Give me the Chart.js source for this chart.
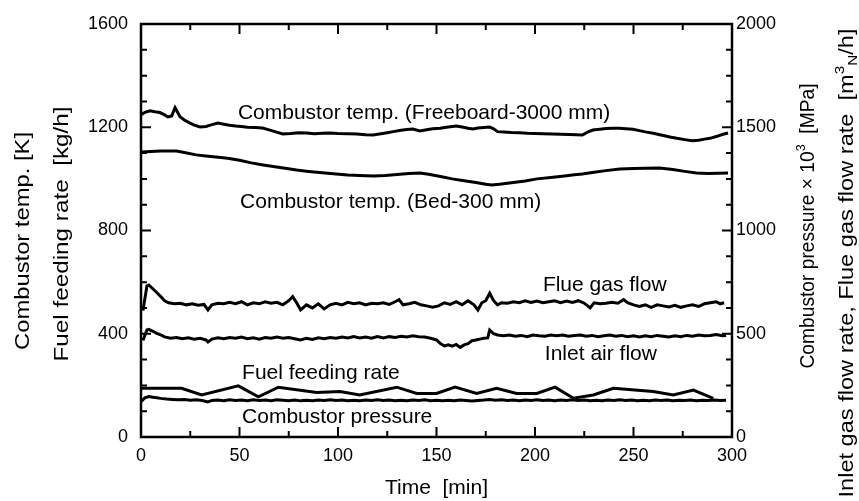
<!DOCTYPE html>
<html>
<head>
<meta charset="utf-8">
<script src="https://cdn.jsdelivr.net/npm/chart.js@4.4.1/dist/chart.umd.min.js"></script>
<style>
  html, body { margin: 0; padding: 0; background: #fff; }
  #wrap { width: 859px; height: 501px; }
</style>
</head>
<body>
<div id="wrap"><canvas id="combustorChart" width="859" height="501"></canvas></div>
<script>
// [time (min), value] pairs
// left axis: temperature [K] / fuel feeding rate [kg/h]
const freeboardTemp = [[0,1248],[2,1258],[4.6,1264],[7,1260],[9.6,1257],[12,1248],[13.7,1240],[15.6,1244],[17.3,1276],[19.8,1241],[22,1228],[24.9,1216],[27,1208],[30,1201],[33,1203],[36,1210],[39,1216],[42,1212],[45,1208],[48,1205],[51,1203],[54,1200],[58,1199],[61.7,1197],[65,1190],[68,1183],[72,1174],[76,1176],[80,1179],[84,1178],[88,1175],[92,1177],[96,1178],[100,1176],[105,1175],[109.6,1174],[114,1171],[117.8,1170],[121,1174],[125,1179],[128,1183],[132,1188],[135,1191],[138,1193],[141.6,1186],[145,1190],[148,1194],[151.8,1196],[155,1200],[158,1203],[160,1205],[163,1201],[166,1196],[168.5,1193],[171,1197],[174,1199],[177,1201],[179,1194],[181,1183],[184,1182],[188,1180],[192,1179],[196,1177],[200,1176],[204,1175],[209,1174],[213,1173],[217,1172],[221,1171],[224,1170],[227,1182],[229.4,1189],[233,1192],[236,1195],[239.6,1196],[243,1196],[246,1194],[249.7,1192],[253,1187],[256,1182],[260,1177],[264,1170],[268.5,1162],[272,1157],[276,1152],[279.7,1148],[283,1150],[286,1154],[288.8,1157],[292,1164],[295.4,1173],[298,1178]];
const bedTemp = [[0,1104],[5,1106],[10,1108],[14,1108],[18,1108],[22,1102],[28,1093],[33,1089],[38,1085],[44,1080],[50,1072],[56,1062],[62,1054],[68,1047],[74,1040],[79,1034],[85,1029],[92,1024],[99,1019],[105,1015],[111,1013],[118,1011],[124,1013],[130,1017],[136,1021],[141.6,1023],[146,1018],[152,1009],[158,1000],[164,993],[170,986],[175,979],[178,976],[182,979],[188,985],[195,992],[201,1000],[208,1005],[215,1011],[220,1016],[224,1019],[230,1026],[236,1032],[243,1038],[250,1040],[256,1041],[263,1042],[270,1036],[276,1029],[282,1023],[288,1021],[293,1022],[298,1023]];
const fuelRate = [[0,189],[20.6,189],[30.8,163],[49.4,198],[59.6,156],[69.7,193],[89.2,172],[101,176],[111,163],[129.8,193],[140,169],[150,169],[159.4,193],[170.4,169],[180.5,189],[190.7,169],[200.9,169],[210.2,193],[219.5,150],[229.6,163],[239.8,189],[260,176],[270.2,163],[280.4,182],[290.5,150]];
// right axis: gas flow [m3N/h] / pressure x 10^3 [MPa]
const flueGasFlow = [[1,612],[3,731],[4,736],[6,718],[8,700],[10,680],[12,660],[14,650],[17,645],[20,648],[23,640],[26,645],[29,638],[32,642],[34,615],[36,640],[39,648],[42,645],[45,652],[48,646],[51,655],[54,640],[57,650],[60,645],[63,655],[66,648],[69,652],[72,640],[75,660],[77,680],[79,650],[81,615],[84,640],[87,625],[90,645],[93,620],[96,640],[99,648],[102,640],[105,652],[108,645],[111,650],[114,640],[117,648],[120,645],[123,650],[126,642],[129,655],[131,665],[133,640],[136,645],[139,652],[142,640],[145,635],[148,628],[151,635],[154,650],[157,642],[160,655],[163,640],[166,660],[169,640],[171,615],[173,650],[175,660],[177,696],[179,660],[181,640],[183,650],[186,648],[189,655],[192,650],[195,660],[198,652],[201,658],[204,650],[207,655],[210,660],[213,650],[216,658],[219,652],[222,660],[225,648],[228,625],[230,650],[233,645],[236,648],[239,652],[242,648],[245,665],[247,650],[250,640],[253,632],[256,640],[259,628],[262,640],[265,635],[268,630],[271,638],[274,628],[277,635],[280,640],[283,632],[286,645],[289,650],[292,655],[294,645],[296,650]];
const inletAirFlow = [[1,468],[3,518],[4,521],[6,512],[8,502],[10,494],[12,485],[15,478],[18,482],[21,476],[24,480],[27,474],[30,478],[33,470],[34,460],[36,474],[39,480],[42,476],[45,482],[48,478],[51,484],[54,476],[57,480],[60,474],[63,482],[66,478],[69,484],[72,478],[75,482],[78,476],[81,470],[84,478],[87,472],[90,480],[93,476],[96,482],[99,478],[102,484],[105,480],[108,486],[111,480],[114,484],[117,478],[120,486],[123,480],[126,486],[129,482],[132,488],[135,484],[138,490],[141,486],[144,484],[147,478],[150,470],[152,452],[154,441],[156,446],[158,440],[160,448],[162,434],[164,446],[166,452],[168,466],[170,470],[172,474],[174,478],[176,480],[177,518],[179,500],[181,494],[184,490],[187,494],[190,488],[193,492],[196,486],[199,494],[202,490],[205,488],[208,494],[211,490],[214,494],[217,488],[220,492],[223,494],[226,488],[229,492],[232,486],[235,490],[238,494],[241,488],[244,492],[247,486],[250,490],[253,484],[256,490],[259,486],[262,492],[265,488],[268,484],[271,490],[274,486],[277,492],[280,488],[283,494],[286,490],[289,492],[292,496],[295,490],[297,492]];
const pressure = [[0,171],[2,190],[4,196],[6,193],[8,190],[10,187],[13,184],[16,182],[19,180],[22,181],[25,178],[28,180],[31,177],[34,170],[36,177],[39,179],[42,176],[45,180],[48,177],[51,179],[54,176],[57,180],[60,177],[63,179],[66,176],[69,180],[72,178],[75,176],[78,179],[81,175],[84,178],[87,176],[90,179],[93,177],[96,180],[99,177],[102,179],[105,176],[108,178],[111,176],[114,179],[117,177],[120,180],[123,177],[126,179],[129,176],[132,178],[135,176],[138,179],[141,177],[144,180],[147,176],[150,178],[153,175],[156,178],[159,176],[162,179],[165,177],[168,174],[171,177],[174,179],[177,182],[180,178],[183,180],[186,177],[189,179],[192,176],[195,179],[198,177],[201,180],[204,177],[207,179],[210,176],[213,179],[216,177],[219,180],[222,177],[225,179],[228,176],[231,178],[234,176],[237,179],[240,177],[243,180],[246,177],[249,179],[252,176],[255,178],[258,176],[261,179],[264,177],[267,179],[270,176],[273,178],[276,177],[279,179],[282,176],[285,178],[288,177],[291,179],[294,177],[297,178]];

const timeTickLabels = [0, 50, 100, 150, 200, 250, 300];
const leftTickLabels = [0, 400, 800, 1200, 1600];
const rightTickLabels = [0, 500, 1000, 1500, 2000];

// curve captions, anchored in data units
const labelTexts = ['Combustor temp. (Freeboard-3000 mm)', 'Combustor temp. (Bed-300 mm)', 'Flue gas flow', 'Inlet air flow', 'Fuel feeding rate', 'Combustor pressure'];
const labelTimes = [49.2, 50.3, 204, 205, 51.3, 51.3];
const labelValues = [1255, 910, 736, 402, 248, 77];
const labelAxes = ['y', 'y', 'y1', 'y1', 'y', 'y'];

const FONT = "'Liberation Sans', Arial, Helvetica, sans-serif";
Chart.defaults.font.family = FONT;
Chart.defaults.color = '#000';

// frame + inward tick marks, positions taken from the scales
const frameTicks = {
    id: 'frameTicks',
    afterDraw(chart) {
        const { ctx, chartArea: a, scales: { x, y, y1 } } = chart;
        ctx.save();
        ctx.strokeStyle = '#000';
        ctx.lineWidth = 2.5;
        ctx.strokeRect(a.left, a.top, a.right - a.left, a.bottom - a.top);
        ctx.lineWidth = 2;
        ctx.beginPath();
        x.ticks.forEach(tk => {
            const px = x.getPixelForValue(tk.value);
            const len = timeTickLabels.includes(tk.value) ? 10 : 6;
            ctx.moveTo(px, a.bottom); ctx.lineTo(px, a.bottom - len);
            ctx.moveTo(px, a.top); ctx.lineTo(px, a.top + len);
        });
        y.ticks.forEach(tk => {
            const py = y.getPixelForValue(tk.value);
            const len = leftTickLabels.includes(tk.value) ? 10 : 6;
            ctx.moveTo(a.left, py); ctx.lineTo(a.left + len, py);
        });
        y1.ticks.forEach(tk => {
            const py = y1.getPixelForValue(tk.value);
            const len = rightTickLabels.includes(tk.value) ? 10 : 6;
            ctx.moveTo(a.right, py); ctx.lineTo(a.right - len, py);
        });
        ctx.stroke();
        ctx.restore();
    }
};

const curveLabels = {
    id: 'curveLabels',
    afterDatasetsDraw(chart) {
        const { ctx, scales } = chart;
        ctx.save();
        ctx.font = '21px ' + FONT;
        ctx.fillStyle = '#000';
        ctx.textAlign = 'left';
        ctx.textBaseline = 'middle';
        labelTexts.forEach((txt, i) => {
            const px = scales.x.getPixelForValue(labelTimes[i]);
            const py = scales[labelAxes[i]].getPixelForValue(labelValues[i]);
            ctx.fillText(txt, px, py);
        });
        ctx.restore();
    }
};

// rotated axis titles with super/subscripts, stretched to the original length
function drawRotatedTitle(ctx, parts, cx, cy, length) {
    ctx.save();
    let w = 0;
    parts.forEach(p => {
        ctx.font = (p.shift ? '13px ' : '20px ') + FONT;
        p.w = ctx.measureText(p.text).width;
        w += p.w;
    });
    ctx.translate(cx, cy);
    ctx.rotate(-Math.PI / 2);
    ctx.scale(length / w, 1);
    ctx.fillStyle = '#000';
    ctx.textAlign = 'left';
    ctx.textBaseline = 'middle';
    let pos = -w / 2;
    parts.forEach(p => {
        ctx.font = (p.shift ? '13px ' : '20px ') + FONT;
        const off = p.shift === 1 ? -7 : p.shift === -1 ? 6 : 0;
        ctx.fillText(p.text, pos, off);
        pos += p.w;
    });
    ctx.restore();
}

const axisTitles = {
    id: 'axisTitles',
    afterDraw(chart) {
        const ctx = chart.ctx;
        drawRotatedTitle(ctx, [{ text: 'Combustor temp. [K]' }], 23, 241, 218);
        drawRotatedTitle(ctx, [{ text: 'Fuel feeding rate  [kg/h]' }], 62, 234, 255);
        drawRotatedTitle(ctx, [{ text: 'Combustor pressure \u00d7 10' }, { text: '3', shift: 1 }, { text: '  [MPa]' }], 808, 226, 285);
        drawRotatedTitle(ctx, [{ text: 'Inlet gas flow rate, Flue gas flow rate  [m' }, { text: '3', shift: 1 }, { text: 'N', shift: -1 }, { text: '/h]' }], 847, 263, 469);
    }
};

const toPoints = pairs => pairs.map(([t, v]) => ({ x: t, y: v }));
const series = [
    { data: freeboardTemp, axis: 'y' },
    { data: bedTemp, axis: 'y' },
    { data: fuelRate, axis: 'y' },
    { data: flueGasFlow, axis: 'y1' },
    { data: inletAirFlow, axis: 'y1' },
    { data: pressure, axis: 'y1' }
];

const tickFont = { size: 18 };

const ctx = document.getElementById('combustorChart').getContext('2d');
const combustorChart = new Chart(ctx, {
    type: 'line',
    data: {
        datasets: series.map(s => ({
            data: toPoints(s.data),
            yAxisID: s.axis,
            borderColor: '#000',
            borderWidth: 3,
            pointRadius: 0,
            tension: 0,
            fill: false
        }))
    },
    options: {
        responsive: false,
        animation: false,
        layout: { padding: { top: 24, right: 0, bottom: 0, left: 0 } },
        plugins: { legend: { display: false }, tooltip: { enabled: false } },
        scales: {
            x: {
                type: 'linear',
                min: 0,
                max: 300,
                afterFit: s => { s.height = 64; },
                grid: { display: false, drawTicks: false },
                border: { display: false },
                ticks: {
                    stepSize: 25,
                    autoSkip: false,
                    maxRotation: 0,
                    maxTicksLimit: 40,
                    padding: 8,
                    font: tickFont,
                    callback: v => timeTickLabels.includes(v) ? String(v) : ''
                },
                title: { display: true, text: 'Time  [min]', font: { size: 21 }, padding: { top: 0, bottom: 0 } }
            },
            y: {
                type: 'linear',
                position: 'left',
                min: 0,
                max: 1600,
                afterFit: s => { s.width = 141; },
                grid: { display: false, drawTicks: false },
                border: { display: false },
                ticks: {
                    stepSize: 100,
                    autoSkip: false,
                    maxTicksLimit: 40,
                    padding: 13,
                    font: tickFont,
                    callback: v => leftTickLabels.includes(v) ? String(v) : ''
                }
            },
            y1: {
                type: 'linear',
                position: 'right',
                min: 0,
                max: 2000,
                afterFit: s => { s.width = 127; },
                grid: { display: false, drawTicks: false },
                border: { display: false },
                ticks: {
                    stepSize: 125,
                    autoSkip: false,
                    maxTicksLimit: 40,
                    padding: 4,
                    font: tickFont,
                    callback: v => rightTickLabels.includes(v) ? String(v) : ''
                }
            }
        }
    },
    plugins: [frameTicks, curveLabels, axisTitles]
});
</script>
</body>
</html>
